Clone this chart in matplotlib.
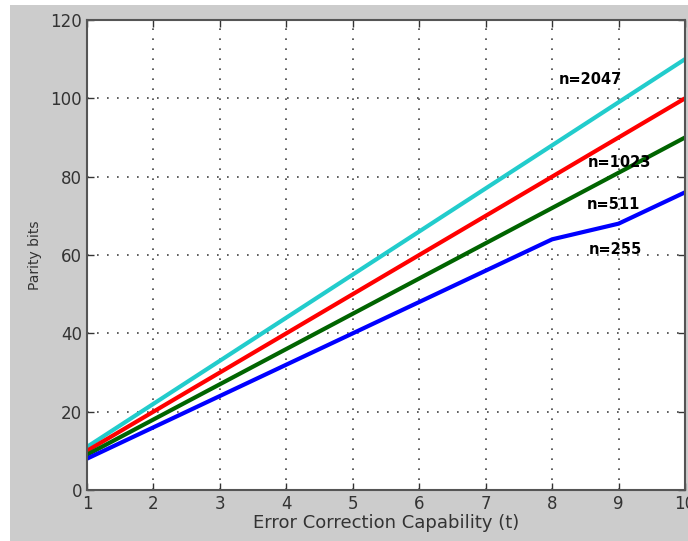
import numpy as np
import matplotlib.pyplot as plt
from matplotlib.patches import Rectangle

t = [1, 2, 3, 4, 5, 6, 7, 8, 9, 10]
n255 = [8, 16, 24, 32, 40, 48, 56, 64, 68, 76]
n511 = [9, 18, 27, 36, 45, 54, 63, 72, 81, 90]
n1023 = [10, 20, 30, 40, 50, 60, 70, 80, 90, 100]
n2047 = [11, 22, 33, 44, 55, 66, 77, 88, 99, 110]

fig = plt.figure(figsize=(6.88, 5.41), dpi=100)
fig.patch.set_facecolor('white')
fig.patches.append(Rectangle((10/688, 0), 1, 536/541, transform=fig.transFigure,
                             facecolor='#cccccc', edgecolor='none', zorder=-1))

ax = fig.add_axes([87/688, 51/541, 598/688, 470/541])
ax.set_axisbelow(True)
ax.plot(t, n2047, color='#22cccc', lw=3)
ax.plot(t, n1023, color='#ff0000', lw=3)
ax.plot(t, n511, color='#006400', lw=3)
ax.plot(t, n255, color='#0000ff', lw=3)

ax.set_xlim(1, 10)
ax.set_ylim(0, 120)
ax.set_xticks(range(1, 11))
ax.set_yticks(range(0, 121, 20))
ax.grid(True, linestyle=(0, (1, 5)), color='#444444', lw=1.2)
ax.tick_params(direction='in', top=True, right=True, length=5, width=1,
               labelsize=12, colors='#333333')
for s in ax.spines.values():
    s.set_color('#555555')
    s.set_linewidth(1.5)

ax.set_xlabel('Error Correction Capability (t)', fontsize=13, color='#333333', labelpad=1)
ax.set_ylabel('Parity bits', fontsize=10, color='#333333', labelpad=6)

ax.text(8.57, 104.7, 'n=2047', fontsize=10.5, fontweight='bold', ha='center', va='center')
ax.text(9.02, 83.5, 'n=1023', fontsize=10.5, fontweight='bold', ha='center', va='center')
ax.text(8.92, 72.8, 'n=511', fontsize=10.5, fontweight='bold', ha='center', va='center')
ax.text(8.95, 61.3, 'n=255', fontsize=10.5, fontweight='bold', ha='center', va='center')

plt.savefig('out.png', dpi=100)
